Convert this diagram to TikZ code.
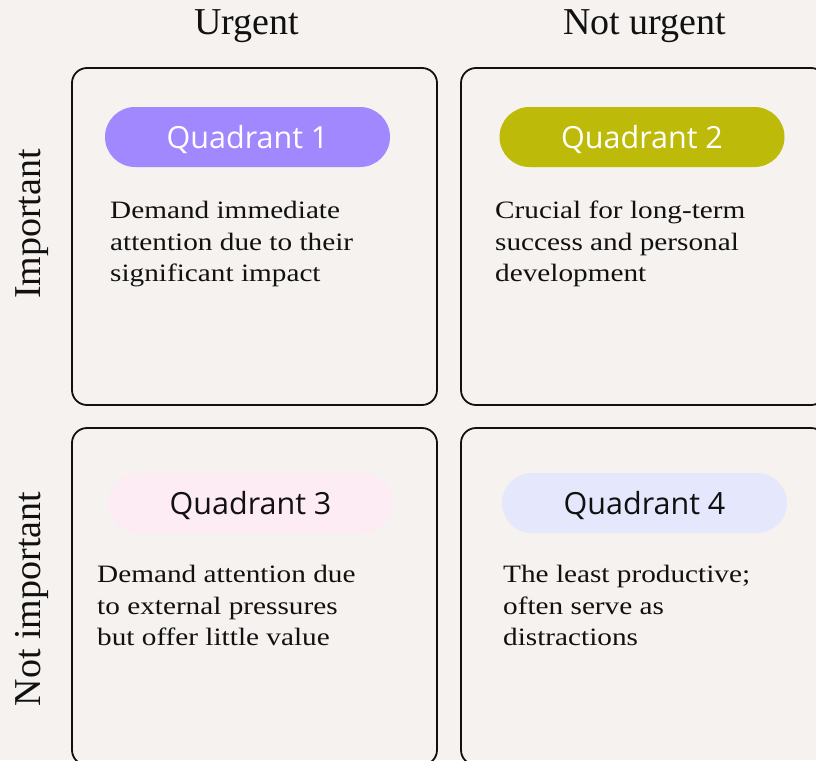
\documentclass[tikz,border=0pt]{standalone}
\usepackage{fontspec}
\setmainfont{Liberation Serif}
\newfontfamily\bodyfont[FakeStretch=1.17]{Liberation Serif}
\newfontfamily\pillfont{Open Sans}
\usepackage{xcolor}
\usetikzlibrary{positioning}
\definecolor{mxbg}{RGB}{245,242,239}
\definecolor{mxedge}{RGB}{17,17,17}
\definecolor{mxone}{RGB}{162,136,255}
\definecolor{mxtwo}{RGB}{189,186,10}
\definecolor{mxthree}{RGB}{253,236,244}
\definecolor{mxfour}{RGB}{229,232,252}
\tikzset{
  quad/.style={
    draw=mxedge, line width=1.8pt, rounded corners=15pt,
    minimum width=365pt, minimum height=337pt, inner sep=0pt
  },
  pill/.style={
    rounded corners=30pt, minimum width=285pt, minimum height=60pt,
    inner sep=0pt, text depth=0pt, font=\pillfont\fontsize{30.5}{32}\selectfont
  },
  pillw/.style={pill, text=white},
  pillk/.style={pill, text=mxedge},
  body/.style={
    anchor=north west, align=left, inner sep=0pt, text=mxedge,
    font=\bodyfont\fontsize{25}{31.5}\selectfont
  },
  axis/.style={anchor=base, inner sep=0pt, text=mxedge,
    font=\fontsize{38}{40}\selectfont}
}

\begin{document}
\begin{tikzpicture}[x=1pt, y=-1pt]
  \fill[mxbg] (0,0) rectangle (816,760);
  \useasboundingbox (0,0) rectangle (816,760);
  \clip (0,0) rectangle (816,760);

  % axis labels
  \node[axis] (urg) at (246.5,35) {Urgent};
  \node[axis] (nurg) at (644.5,35) {Not urgent};
  \node[axis, rotate=90] (imp) at (40,224) {Important};
  \node[axis, rotate=90] (nimp) at (40,599) {Not important};

  % the four boxes
  \node[quad] (q1) at (254.5,236.5) {};
  \node[quad] (q2) at (643.5,236.5) {};
  \node[quad] (q3) at (254.5,596.5) {};
  \node[quad] (q4) at (643.5,596.5) {};

  \node[pillw, fill=mxone] (p1) at (247.5,137) {Quadrant 1};
  \node[pillw, fill=mxtwo] (p2) at (642,137) {Quadrant 2};
  \node[pillk, fill=mxthree] (p3) at (250.5,503) {Quadrant 3};
  \node[pillk, fill=mxfour] (p4) at (644.5,503) {Quadrant 4};

  \node[body] (t1) at (110,201) {Demand immediate\\attention due to their\\significant impact};
  \node[body] (t2) at (495,201) {Crucial for long-term\\success and personal\\development};
  \node[body] (t3) at (97,565) {Demand attention due\\to external pressures\\but offer little value};
  \node[body] (t4) at (503,565) {The least productive;\\often serve as\\distractions};
\end{tikzpicture}
\end{document}
